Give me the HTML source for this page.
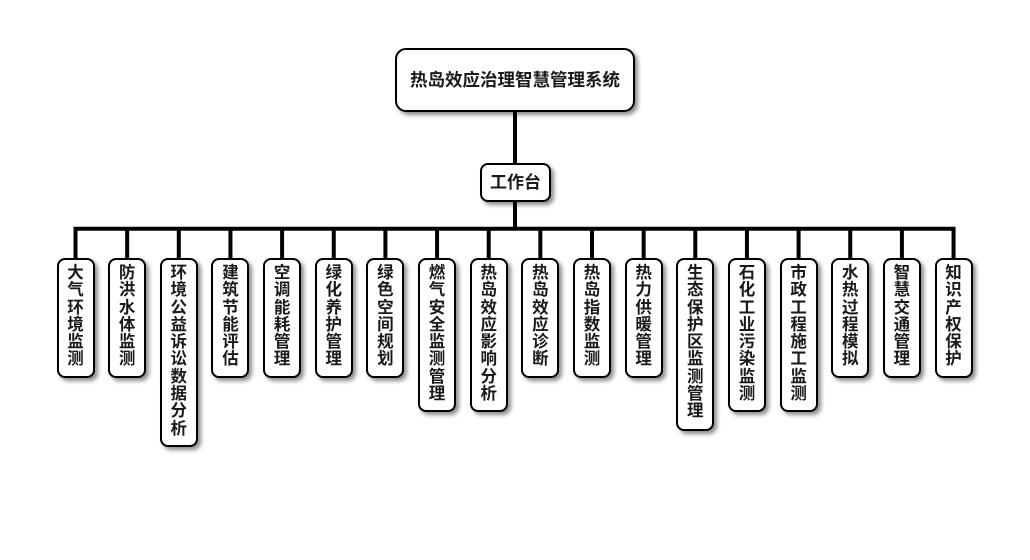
<!DOCTYPE html>
<html><head><meta charset="utf-8">
<style>
html,body{margin:0;padding:0;background:#fff;}
body{width:1030px;height:560px;position:relative;overflow:hidden;font-family:"Liberation Sans","Noto Sans CJK SC",sans-serif;}
.box{position:absolute;box-sizing:border-box;border:2px solid #000;background:#fff;border-radius:8px;box-shadow:3px 3px 4px rgba(0,0,0,0.45);color:#1a1a1a;font-weight:bold;text-align:center;}
.main{left:395px;top:48px;width:240px;height:64px;border-radius:11px;font-size:17.5px;line-height:60px;}
.work{left:480px;top:163px;width:71px;height:39px;font-size:17px;line-height:35px;}
.leaf{top:258px;width:38px;font-size:16.5px;line-height:17.3px;padding-top:5px;}
.leaf span{display:block;}
svg{position:absolute;left:0;top:0;}
</style></head><body>
<svg width="1030" height="560">
  <g stroke="#000" stroke-width="4" fill="none">
    <line x1="515" y1="110" x2="515" y2="165"/>
    <line x1="515" y1="200" x2="515" y2="230"/>
    <line x1="73.5" y1="228.7" x2="955.5" y2="228.7"/>
    <line x1="75.5" y1="228" x2="75.5" y2="260"/>
    <line x1="127.15" y1="228" x2="127.15" y2="260"/>
    <line x1="178.8" y1="228" x2="178.8" y2="260"/>
    <line x1="230.45" y1="228" x2="230.45" y2="260"/>
    <line x1="282.1" y1="228" x2="282.1" y2="260"/>
    <line x1="333.75" y1="228" x2="333.75" y2="260"/>
    <line x1="385.4" y1="228" x2="385.4" y2="260"/>
    <line x1="437.05" y1="228" x2="437.05" y2="260"/>
    <line x1="488.7" y1="228" x2="488.7" y2="260"/>
    <line x1="540.35" y1="228" x2="540.35" y2="260"/>
    <line x1="592" y1="228" x2="592" y2="260"/>
    <line x1="643.65" y1="228" x2="643.65" y2="260"/>
    <line x1="695.3" y1="228" x2="695.3" y2="260"/>
    <line x1="746.95" y1="228" x2="746.95" y2="260"/>
    <line x1="798.6" y1="228" x2="798.6" y2="260"/>
    <line x1="850.25" y1="228" x2="850.25" y2="260"/>
    <line x1="901.9" y1="228" x2="901.9" y2="260"/>
    <line x1="953.55" y1="228" x2="953.55" y2="260"/>
  </g>
</svg>
<div class="box main">热岛效应治理智慧管理系统</div>
<div class="box work">工作台</div>

<div class="box leaf" style="left:56.5px;height:120px;">大<br>气<br>环<br>境<br>监<br>测</div>
<div class="box leaf" style="left:108.15px;height:120px;">防<br>洪<br>水<br>体<br>监<br>测</div>
<div class="box leaf" style="left:159.8px;height:189px;">环<br>境<br>公<br>益<br>诉<br>讼<br>数<br>据<br>分<br>析</div>
<div class="box leaf" style="left:211.45px;height:120px;">建<br>筑<br>节<br>能<br>评<br>估</div>
<div class="box leaf" style="left:263.1px;height:120px;">空<br>调<br>能<br>耗<br>管<br>理</div>
<div class="box leaf" style="left:314.75px;height:120px;">绿<br>化<br>养<br>护<br>管<br>理</div>
<div class="box leaf" style="left:366.4px;height:120px;">绿<br>色<br>空<br>间<br>规<br>划</div>
<div class="box leaf" style="left:418.05px;height:154px;">燃<br>气<br>安<br>全<br>监<br>测<br>管<br>理</div>
<div class="box leaf" style="left:469.7px;height:154px;">热<br>岛<br>效<br>应<br>影<br>响<br>分<br>析</div>
<div class="box leaf" style="left:521.35px;height:120px;">热<br>岛<br>效<br>应<br>诊<br>断</div>
<div class="box leaf" style="left:573px;height:120px;">热<br>岛<br>指<br>数<br>监<br>测</div>
<div class="box leaf" style="left:624.65px;height:120px;">热<br>力<br>供<br>暖<br>管<br>理</div>
<div class="box leaf" style="left:676.3px;height:173px;">生<br>态<br>保<br>护<br>区<br>监<br>测<br>管<br>理</div>
<div class="box leaf" style="left:727.95px;height:154px;">石<br>化<br>工<br>业<br>污<br>染<br>监<br>测</div>
<div class="box leaf" style="left:779.6px;height:154px;">市<br>政<br>工<br>程<br>施<br>工<br>监<br>测</div>
<div class="box leaf" style="left:831.25px;height:120px;">水<br>热<br>过<br>程<br>模<br>拟</div>
<div class="box leaf" style="left:882.9px;height:120px;">智<br>慧<br>交<br>通<br>管<br>理</div>
<div class="box leaf" style="left:934.55px;height:120px;">知<br>识<br>产<br>权<br>保<br>护</div>
</body></html>
